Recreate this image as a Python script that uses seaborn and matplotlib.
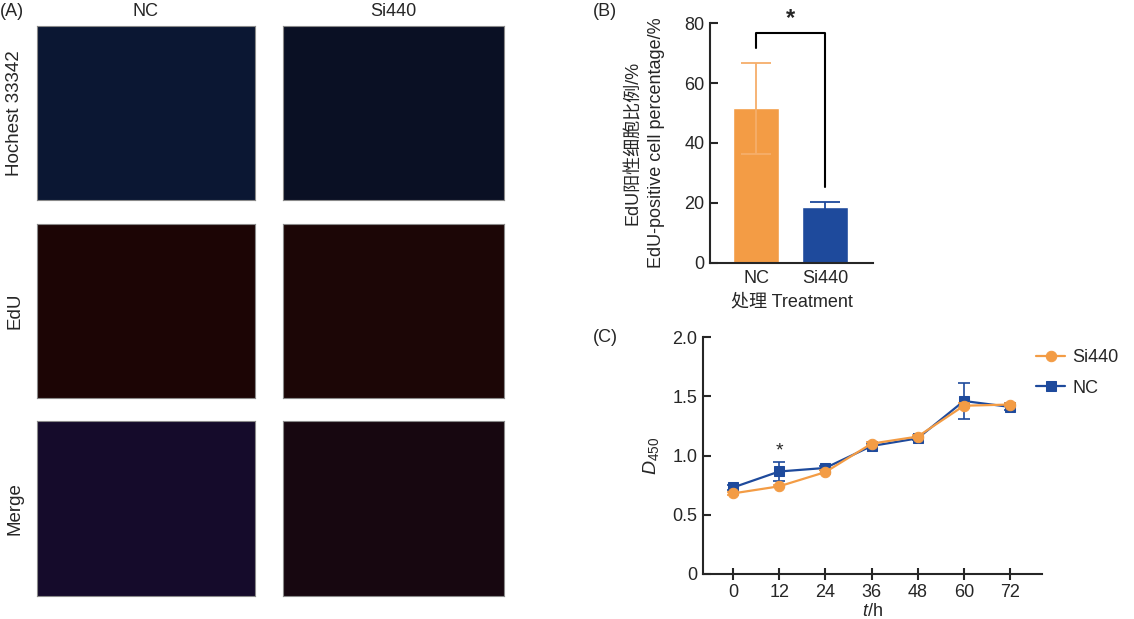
import numpy as np
import pandas as pd
import matplotlib
matplotlib.use("Agg")
import matplotlib.pyplot as plt
import seaborn as sns

# ---------------- data ----------------
groups = ["NC", "Si440"]
edu_mean = [51.5, 18.8]
edu_err = [15.2, 1.6]

hours = [0, 12, 24, 36, 48, 60, 72]
nc_od = [0.73, 0.865, 0.895, 1.08, 1.145, 1.46, 1.41]
nc_err = [0.02, 0.08, 0.015, 0.015, 0.015, 0.155, 0.03]
si_od = [0.68, 0.74, 0.86, 1.10, 1.16, 1.42, 1.43]
si_err = [0.01, 0.01, 0.015, 0.015, 0.015, 0.02, 0.015]

row_labels = ["Hochest 33342", "EdU", "Merge"]
panel_colors = [["#0b1733", "#0a1024"], ["#1c0505", "#1c0606"], ["#150b2b", "#170710"]]

ORANGE = "#F39C45"
ORANGE_ERR = "#F6AE6A"
BLUE = "#1E4A9C"

sns.set_theme(style="ticks")
plt.rcParams["font.family"] = ["Liberation Sans", "Noto Sans CJK SC", "DejaVu Sans"]
plt.rcParams["axes.linewidth"] = 1.5
plt.rcParams["mathtext.fontset"] = "custom"
plt.rcParams["mathtext.it"] = "Liberation Sans:italic"
plt.rcParams["mathtext.rm"] = "Liberation Sans"

FS = 13
W, H = 1134, 619
fig = plt.figure(figsize=(W / 100, H / 100), dpi=100)


def ax_px(x0, y0, x1, y1):
    return fig.add_axes([x0 / W, 1 - y1 / H, (x1 - x0) / W, (y1 - y0) / H])


def ftext(x, y, s, **kw):
    fig.text(x / W, 1 - y / H, s, **kw)

# ---------------- panel A ----------------
cols_x = [(37, 255), (283, 504)]
rows_y = [(26, 200), (224, 398), (421, 596)]
for r, (y0, y1) in enumerate(rows_y):
    for c, (x0, x1) in enumerate(cols_x):
        a = ax_px(x0, y0, x1, y1)
        a.set_facecolor(panel_colors[r][c])
        a.set_xticks([])
        a.set_yticks([])
        for s in a.spines.values():
            s.set_color("#8a8a8a")
            s.set_linewidth(0.8)
    ftext(15, (y0 + y1) / 2, row_labels[r], rotation=90, ha="center", va="center", fontsize=13.5)
for c, (x0, x1) in enumerate(cols_x):
    ftext((x0 + x1) / 2, 12, groups[c], ha="center", va="center", fontsize=FS)
ftext(0, 12, "(A)", ha="left", va="center", fontsize=FS)

# ---------------- panel B ----------------
axb = ax_px(710, 23, 873, 263)
dfb = pd.DataFrame({"group": groups, "val": edu_mean})
sns.barplot(data=dfb, x="group", y="val", hue="group", palette=[ORANGE, BLUE],
            width=0.67, errorbar=None, legend=False, ax=axb, saturation=1)
axb.errorbar([0], [edu_mean[0]], yerr=[edu_err[0]], fmt="none", ecolor=ORANGE_ERR,
             elinewidth=1.3, capsize=11, capthick=1.3, zorder=5)
axb.errorbar([1], [edu_mean[1]], yerr=[edu_err[1]], fmt="none", ecolor=BLUE,
             elinewidth=1.3, capsize=11, capthick=1.3, zorder=5)
axb.set_xlim(-0.67, 1.70)
axb.set_ylim(0, 80)
axb.set_yticks([0, 20, 40, 60, 80])
axb.tick_params(axis="y", direction="in", length=6, width=1.5, labelsize=FS, pad=4)
axb.tick_params(axis="x", length=0, labelsize=FS, pad=5)
axb.set_xlabel("处理 Treatment", fontsize=FS, labelpad=5)
axb.set_ylabel("EdU阳性细胞比例/%\nEdU-positive cell percentage/%", fontsize=FS, labelpad=14,
               linespacing=1.45)
sns.despine(ax=axb)
# significance bracket
axb.plot([0, 0, 1, 1], [71.7, 76.7, 76.7, 25.3], color="black", lw=1.5, clip_on=False)
axb.text(0.5, 77.8, "*", ha="center", va="bottom", fontsize=17, fontweight="bold")
ftext(593, 12, "(B)", ha="left", va="center", fontsize=FS)

# ---------------- panel C ----------------
axc = ax_px(703, 337, 1042, 574)
dnc = pd.DataFrame({"t": hours, "od": nc_od})
dsi = pd.DataFrame({"t": hours, "od": si_od})
axc.errorbar(hours, nc_od, yerr=nc_err, fmt="none", ecolor=BLUE, elinewidth=1.2,
             capsize=4, capthick=1.2, zorder=2)
sns.lineplot(data=dnc, x="t", y="od", color=BLUE, marker="s", markersize=7,
             markeredgecolor=BLUE, linewidth=1.6, ax=axc, label="NC", zorder=3)
axc.errorbar(hours, si_od, yerr=si_err, fmt="none", ecolor=ORANGE, elinewidth=1.2,
             capsize=4, capthick=1.2, zorder=4)
sns.lineplot(data=dsi, x="t", y="od", color=ORANGE, marker="o", markersize=7.5,
             markeredgecolor=ORANGE, linewidth=1.6, ax=axc, label="Si440", zorder=5)
axc.set_xlim(-7.8, 80.3)
axc.set_ylim(0, 2.0)
axc.set_xticks(hours)
axc.set_yticks([0, 0.5, 1.0, 1.5, 2.0])
axc.set_yticklabels(["0", "0.5", "1.0", "1.5", "2.0"])
axc.tick_params(axis="y", direction="in", length=6, width=1.5, labelsize=FS, pad=4)
axc.tick_params(axis="x", direction="inout", length=8, width=1.5, labelsize=FS, pad=3)
axc.set_xlabel(r"$t$/h", fontsize=FS, labelpad=2)
axc.set_ylabel(r"$D_{450}$", fontsize=14, labelpad=8)
sns.despine(ax=axc)
axc.text(12, 0.97, "*", ha="center", va="bottom", fontsize=14)
h, l = axc.get_legend_handles_labels()
order = [l.index("Si440"), l.index("NC")]
axc.legend([h[i] for i in order], [l[i] for i in order], loc="upper left",
           bbox_to_anchor=(0.962, 0.98), frameon=False, fontsize=FS, handlelength=1.6,
           handletextpad=0.4, labelspacing=0.75, borderaxespad=0)
ftext(593, 338, "(C)", ha="left", va="center", fontsize=FS)

fig.savefig("out.png", dpi=100)
